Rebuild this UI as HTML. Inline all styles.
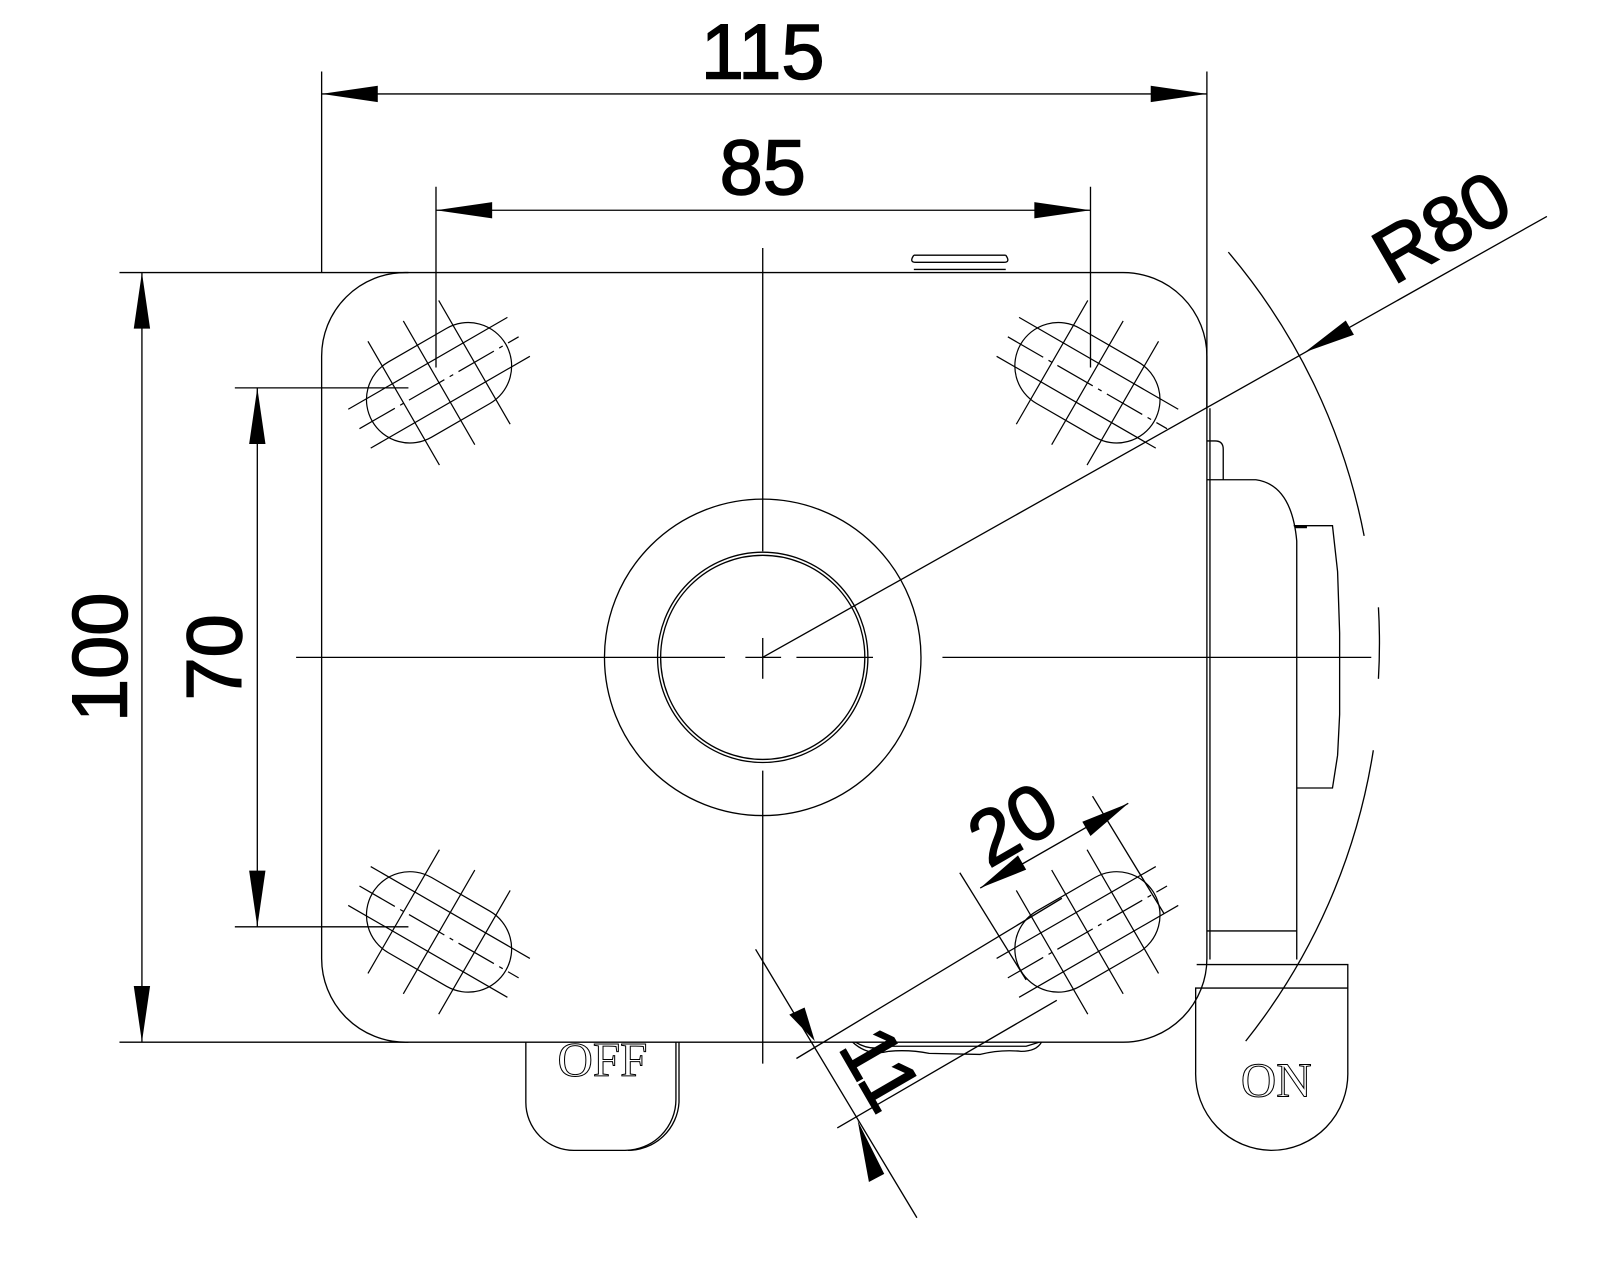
<!DOCTYPE html>
<html><head><meta charset="utf-8"><style>html,body{margin:0;padding:0;background:#fff}svg{display:block}</style></head>
<body>
<svg width="1600" height="1280" viewBox="0 0 1567 1254" preserveAspectRatio="none" xmlns="http://www.w3.org/2000/svg">
<defs>
<g id="slot" fill="none" stroke="#000" stroke-width="1.2">
<path d="M -33,-42.5 L 33,-42.5 A 42.5 42.5 0 0 1 33,42.5 L -33,42.5 A 42.5 42.5 0 0 1 -33,-42.5 Z"/>
<line x1="-90" y1="0" x2="90" y2="0" stroke-dasharray="40 6 4 6"/>
<line x1="-90" y1="-22" x2="90" y2="-22"/>
<line x1="-90" y1="22" x2="90" y2="22"/>
<line x1="-40" y1="-70" x2="-40" y2="70"/>
<line x1="0" y1="-70" x2="0" y2="70"/>
<line x1="40" y1="-70" x2="40" y2="70"/>
</g>
</defs>
<g fill="none" stroke="#000" stroke-width="1.3">
<rect x="315" y="267" width="867" height="754" rx="82"/>
<circle cx="747" cy="644" r="155"/>
<circle cx="747" cy="644" r="103"/>
<circle cx="747" cy="644" r="100"/>
<line x1="290" y1="644" x2="710" y2="644"/><line x1="730" y1="644" x2="765" y2="644"/><line x1="780" y1="644" x2="855" y2="644"/>
<line x1="923" y1="644" x2="1343" y2="644"/>
<line x1="747" y1="243" x2="747" y2="540"/><line x1="747" y1="625" x2="747" y2="665"/><line x1="747" y1="755" x2="747" y2="1042"/>
<path d="M895,250 L985,250 M897,257 L983,257 M895,264 L985,264 M895,250 Q890,257 897,257 M985,250 Q990,257 983,257"/>
<line x1="1185" y1="400" x2="1185" y2="940"/>
<path d="M1182,432 L1190,432 Q1198,432 1198,440 L1198,470"/>
<path d="M1182,470 L1230,470 Q1265,475 1270,530 L1270,940"/>
<path d="M1267,515 L1305,515 L1310,560 L1312,620 L1312,700 L1310,740 L1305,772 L1270,772"/>
<line x1="1268" y1="516" x2="1280" y2="516" stroke-width="3"/>
<line x1="1182" y1="912" x2="1270" y2="912"/>
<path d="M1172,945 L1320,945 L1320,1050 A75 75 0 0 1 1245,1127 A75 75 0 0 1 1171,1050 L1171,968 L1320,968"/>
<path d="M515,1021 L515,1080 A47 47 0 0 0 562,1127 L612,1127 A50 50 0 0 0 662,1077 L662,1021"/>
<path d="M665,1021 L665,1080 A50 50 0 0 1 615,1127"/>
<path d="M835,1021 Q850,1035 870,1030 Q890,1028 910,1032 L960,1033 Q980,1028 1000,1030 Q1015,1030 1020,1021"/>
<path d="M838,1021 Q852,1030 870,1025 L1005,1025 L1018,1021"/>
<use href="#slot" transform="translate(430,375) rotate(-30)"/>
<use href="#slot" transform="translate(1065,375) rotate(30)"/>
<use href="#slot" transform="translate(430,913) rotate(30)"/>
<use href="#slot" transform="translate(1065,913) rotate(-30)"/>
<line x1="315" y1="70" x2="315" y2="267"/><line x1="1182" y1="70" x2="1182" y2="400"/>
<line x1="315" y1="92" x2="1182" y2="92"/>
<line x1="427" y1="183" x2="427" y2="360"/><line x1="1068" y1="183" x2="1068" y2="360"/>
<line x1="427" y1="206" x2="1068" y2="206"/>
<line x1="117" y1="267" x2="400" y2="267"/><line x1="117" y1="1021" x2="400" y2="1021"/>
<line x1="139" y1="267" x2="139" y2="1021"/>
<line x1="230" y1="380" x2="400" y2="380"/><line x1="230" y1="908" x2="400" y2="908"/>
<line x1="252" y1="380" x2="252" y2="908"/>
<line x1="747" y1="644" x2="1515" y2="212"/>
<path d="M1203,247 A609 609 0 0 1 1336,525"/>
<path d="M1350,595 A609 609 0 0 1 1350,665"/>
<path d="M1345,735 A609 609 0 0 1 1220,1020"/>
<line x1="940" y1="855" x2="1005" y2="960"/><line x1="1070" y1="780" x2="1140" y2="895"/>
<line x1="960" y1="870" x2="1105" y2="787"/>
<line x1="780" y1="1037" x2="1040" y2="880"/><line x1="820" y1="1105" x2="1035" y2="980"/>
<line x1="740" y1="930" x2="898" y2="1193"/>
</g>
<g fill="#000">
<polygon points="315,92 370,84 370,100"/><polygon points="1182,92 1127,84 1127,100"/>
<polygon points="427,206 482,198 482,214"/><polygon points="1068,206 1013,198 1013,214"/>
<polygon points="139,267 131,322 147,322"/><polygon points="139,1021 131,966 147,966"/>
<polygon points="252,380 244,435 260,435"/><polygon points="252,908 244,853 260,853"/>
<polygon points="1278,345 1318,314 1326,328"/>
<polygon points="960,870 997,838 1005,852"/><polygon points="1105,787 1068,819 1060,805"/>
<polygon points="798,1020 773,994 788,987"/><polygon points="840,1098 866,1150 851,1158"/>
</g>
<g font-family="'Liberation Sans', sans-serif" fill="#000" stroke="#000" stroke-width="1.5" text-anchor="middle">
<text x="747" y="77" font-size="76">115</text>
<text x="747" y="190" font-size="76">85</text>
<text x="0" y="0" font-size="76" transform="translate(124,644) rotate(-90)">100</text>
<text x="0" y="0" font-size="76" transform="translate(236,644) rotate(-90)">70</text>
<text x="0" y="0" font-size="76" transform="translate(1425,245) rotate(-30)">R80</text>
<text x="0" y="0" font-size="76" transform="translate(1005,830) rotate(-30)">20</text>
<text x="0" y="0" font-size="76" transform="translate(840,1060) rotate(60)">11</text>
</g>
<g font-family="'Liberation Serif', serif" fill="#fff" stroke="#000" stroke-width="1" text-anchor="middle">
<text x="590" y="1054" font-size="48">OFF</text>
<text x="1250" y="1074" font-size="48">ON</text>
</g>
</svg>
</body></html>
